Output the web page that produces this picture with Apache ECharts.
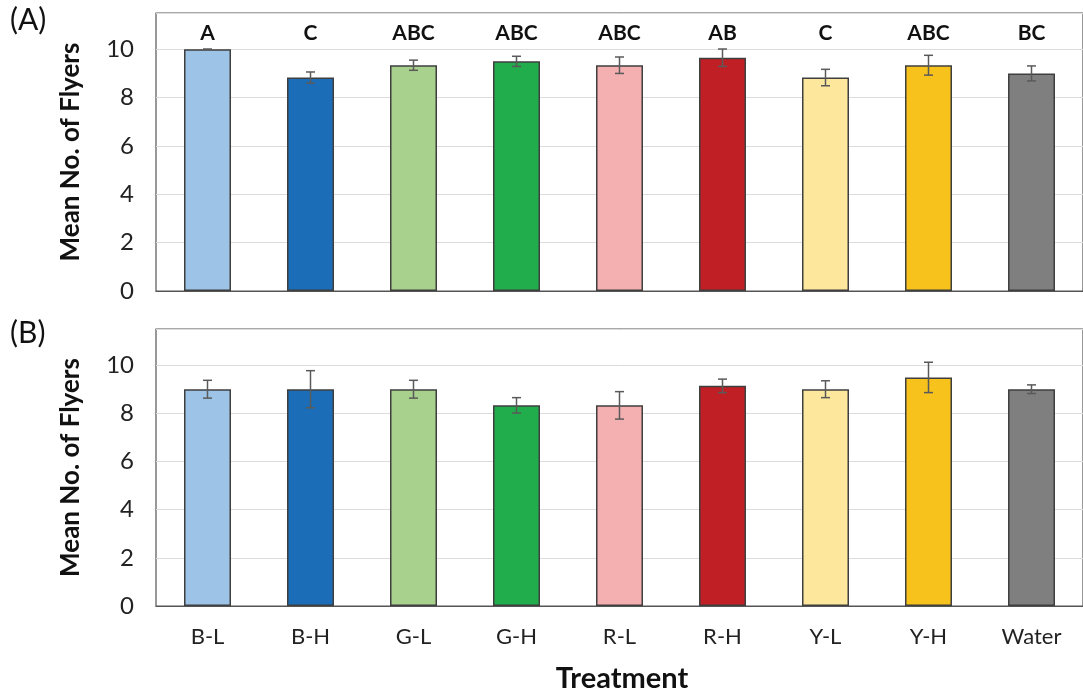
<!DOCTYPE html>
<html><head><meta charset="utf-8">
<script src="https://cdn.jsdelivr.net/npm/echarts@6/dist/echarts.min.js"></script>
<style>html,body{margin:0;padding:0;background:#fff}#c{width:1083px;height:692px}</style>
</head><body><div id="c"></div>
<script>
const categories = ['B-L','B-H','G-L','G-H','R-L','R-H','Y-L','Y-H','Water'];
const meansA = [10.0, 8.83, 9.34, 9.50, 9.34, 9.65, 8.83, 9.34, 9.00];
const errA   = [0.0, 0.23, 0.21, 0.21, 0.34, 0.36, 0.34, 0.41, 0.31];
const lettersA = ['A','C','ABC','ABC','ABC','AB','C','ABC','BC'];
const meansB = [9.0, 9.0, 9.0, 8.33, 8.33, 9.14, 9.0, 9.49, 9.0];
const errB   = [0.37, 0.77, 0.37, 0.32, 0.57, 0.28, 0.35, 0.63, 0.18];
const yTicks = [0, 2, 4, 6, 8, 10];
const colors = ['#9dc3e6','#1b6db8','#a9d18e','#21ad4c','#f4afb1','#c01f26','#fde79c','#f6c21b','#7f7f7f'];

const FONT = 'Lato';
const chart = echarts.init(document.getElementById('c'), null, {renderer: 'canvas'});

function yAxisCfg(gi) {
  return {
    gridIndex: gi, type: 'value', min: 0, max: 11.5, interval: 2,
    name: 'Mean No. of Flyers', nameLocation: 'middle', nameGap: 72,
    nameTextStyle: {fontFamily: FONT, fontWeight: 'bold', fontSize: 26, color: '#111'},
    axisLine: {show: false}, axisTick: {show: false},
    axisLabel: {fontFamily: FONT, fontSize: 24, color: '#222', margin: 22,
      formatter: v => yTicks.indexOf(v) >= 0 ? String(v) : ''},
    splitLine: {lineStyle: {color: '#dcdcdc', width: 1}}
  };
}
function xAxisCfg(gi, showLabels) {
  return {
    gridIndex: gi, type: 'category', data: categories,
    axisLine: {lineStyle: {color: '#555', width: 1.2}},
    axisTick: {show: false},
    axisLabel: {show: showLabels, fontFamily: FONT, fontSize: 22, color: '#222', margin: 20}
  };
}
function barSeries(gi, means) {
  return {
    type: 'bar', xAxisIndex: gi, yAxisIndex: gi, barWidth: 47,
    data: means.map((v, i) => ({value: v, itemStyle: {color: colors[i]}})),
    itemStyle: {borderColor: '#3f3f3f', borderWidth: 1.5}
  };
}
function errSeries(gi, means, errs) {
  return {
    type: 'custom', xAxisIndex: gi, yAxisIndex: gi, z: 5,
    data: means.map((m, i) => [i, m, errs[i]]),
    renderItem: function (params, api) {
      const x = api.value(0), m = api.value(1), e = api.value(2);
      const hi = api.coord([x, m + e]), lo = api.coord([x, m - e]);
      const st = {stroke: '#5a5a5a', lineWidth: 1.5};
      const cw = 4.5;
      return {type: 'group', children: [
        {type: 'line', shape: {x1: hi[0], y1: hi[1], x2: lo[0], y2: lo[1]}, style: st},
        {type: 'line', shape: {x1: hi[0] - cw, y1: hi[1], x2: hi[0] + cw, y2: hi[1]}, style: st},
        {type: 'line', shape: {x1: lo[0] - cw, y1: lo[1], x2: lo[0] + cw, y2: lo[1]}, style: st}
      ]};
    }
  };
}
const letterSeries = {
  type: 'custom', xAxisIndex: 0, yAxisIndex: 0, z: 6,
  data: lettersA.map((l, i) => [i, 0, l]),
  renderItem: function (params, api) {
    const p = api.coord([api.value(0), 0]);
    return {type: 'text', style: {
      text: lettersA[params.dataIndex], x: p[0], y: params.coordSys.y + 20,
      align: 'center', verticalAlign: 'middle',
      font: 'bold 21px ' + FONT, fill: '#111'}};
  }
};

chart.setOption({
  animation: false,
  backgroundColor: '#fff',
  grid: [
    {left: 156, top: 13, width: 933, height: 278, show: true, borderColor: '#555', borderWidth: 1.2},
    {left: 156, top: 329, width: 933, height: 277, show: true, borderColor: '#555', borderWidth: 1.2}
  ],
  xAxis: [xAxisCfg(0, false), xAxisCfg(1, true)],
  yAxis: [yAxisCfg(0), yAxisCfg(1)],
  series: [barSeries(0, meansA), errSeries(0, meansA, errA), letterSeries,
           barSeries(1, meansB), errSeries(1, meansB, errB)],
  graphic: [
    {type: 'text', left: 10, top: 5, style: {text: '(A)', font: '30px ' + FONT, fill: '#111'}},
    {type: 'text', left: 10, top: 318, style: {text: '(B)', font: '30px ' + FONT, fill: '#111'}},
    {type: 'text', x: 622, y: 679, style: {text: 'Treatment', font: 'bold 29px ' + FONT, fill: '#111', align: 'center', verticalAlign: 'middle'}}
  ]
});
</script></body></html>
